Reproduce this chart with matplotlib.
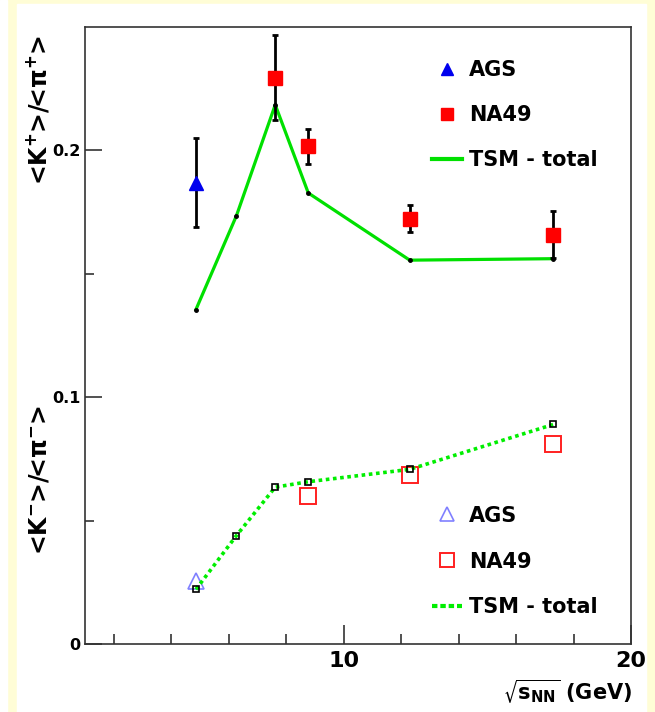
import numpy as np
import matplotlib.pyplot as plt
from matplotlib.lines import Line2D
from matplotlib.patches import Rectangle

plt.rcParams['font.family'] = 'DejaVu Sans'
plt.rcParams['font.weight'] = 'bold'
plt.rcParams['mathtext.default'] = 'bf'

# sqrt(s_NN) in GeV
energy = [4.86, 6.27, 7.62, 8.77, 12.3, 17.3]
ags_energy = [4.86]
na49_kp_energy = [7.62, 8.77, 12.3, 17.3]
na49_km_energy = [8.77, 12.3, 17.3]

# <K+>/<pi+>
tsm_kp = [0.1354, 0.1734, 0.2183, 0.1826, 0.1554, 0.1560]
ags_kp = [0.1868]
ags_kp_err = [0.018]
na49_kp = [0.2292, 0.2015, 0.1722, 0.1657]
na49_kp_err = [0.0172, 0.0070, 0.0055, 0.0095]

# <K->/<pi->
tsm_km = [0.0221, 0.0439, 0.0635, 0.0657, 0.0707, 0.0889]
ags_km = [0.0254]
na49_km = [0.0598, 0.0684, 0.0808]

green = '#00e000'
fig = plt.figure(figsize=(6.55, 7.12), dpi=100, facecolor='#fffdd6')
fig.patches.append(Rectangle((17 / 655, 0), 629 / 655, 1 - 4 / 712,
                             transform=fig.transFigure, color='white', zorder=-10))
fig.patches.append(Rectangle((0, 0), 7 / 655, 1, transform=fig.transFigure,
                             color='white', zorder=-10))

ax = fig.add_axes([85 / 655, (712 - 644) / 712, 546 / 655, 617.5 / 712])

# K+ / pi+
ax.plot(energy, tsm_kp, color=green, lw=2.3, marker='o', ms=2.5,
        mfc='k', mec='k', zorder=2)
ax.errorbar(ags_energy, ags_kp, yerr=ags_kp_err, fmt='^', color='#0000ee',
            ms=10, ecolor='k', elinewidth=2, capsize=2.5, capthick=2, zorder=3)
ax.errorbar(na49_kp_energy, na49_kp, yerr=na49_kp_err, fmt='s', color='#ff0000',
            ms=10, ecolor='k', elinewidth=2, capsize=2.5, capthick=2, zorder=3)

# K- / pi-
ax.plot(energy, tsm_km, color='#00ee00', lw=2.6, ls=(0, (1, 1)),
        marker='s', ms=4.5, mfc='none', mec='k', mew=1.2, zorder=3)
ax.plot(ags_energy, ags_km, ls='none', marker='^', ms=11, mfc='none',
        mec='#8080ff', mew=1.2, zorder=2)
ax.plot(na49_km_energy, na49_km, ls='none', marker='s', ms=11, mfc='none',
        mec='#ff2020', mew=1.4, zorder=2)

ax.set_xlim(1, 20)
ax.set_ylim(0, 0.25)
ax.set_xticks([10, 20])
ax.set_xticklabels(['10', '20'])
ax.set_xticks([2, 4, 6, 8, 12, 14, 16, 18], minor=True)
ax.set_yticks([0, 0.1, 0.2])
ax.set_yticklabels(['0', '0.1', '0.2'])
ax.set_yticks([0.05, 0.15], minor=True)
ax.tick_params(axis='both', which='both', direction='in', color='#333333',
               width=1.2, top=False, right=False)
ax.tick_params(axis='x', which='major', length=13.5, labelsize=16, pad=5)
ax.tick_params(axis='x', which='minor', length=7)
ax.tick_params(axis='y', which='major', length=12, labelsize=11.5, pad=3)
ax.tick_params(axis='y', which='minor', length=6.5)
for s in ax.spines.values():
    s.set_linewidth(1.2)
    s.set_color('#333333')

h_ags = Line2D([], [], ls='none', marker='^', ms=9, color='#0000ee')
h_na = Line2D([], [], ls='none', marker='s', ms=9, color='#ff0000')
h_tsm = Line2D([], [], color=green, lw=3)
leg1 = ax.legend([h_ags, h_na, h_tsm], ['AGS', 'NA49', 'TSM - total'],
                 loc='upper left', bbox_to_anchor=(0.6355, 0.945), frameon=False,
                 fontsize=15, handlelength=1.43, handletextpad=0.33,
                 labelspacing=1.19, borderpad=0, borderaxespad=0)
ax.add_artist(leg1)

h_ags2 = Line2D([], [], ls='none', marker='^', ms=10, mfc='none', mec='#8080ff', mew=1.2)
h_na2 = Line2D([], [], ls='none', marker='s', ms=10, mfc='none', mec='#ff2020', mew=1.4)
h_tsm2 = Line2D([], [], color='#00ee00', lw=3, ls=(0, (1.3, 0.7)))
ax.legend([h_ags2, h_na2, h_tsm2], ['AGS', 'NA49', 'TSM - total'],
          loc='upper left', bbox_to_anchor=(0.6355, 0.224), frameon=False,
          fontsize=15, handlelength=1.43, handletextpad=0.33,
          labelspacing=1.24, borderpad=0, borderaxespad=0)

fig.text(38.5 / 655, 1 - 110 / 712, r'<K$^{+}$>/<$\mathrm{\pi}^{+}$>', rotation=90,
         ha='center', va='center', fontsize=17)
fig.text(40 / 655, 1 - 480 / 712, r'<K$^{-}$>/<$\mathrm{\pi}^{-}$>', rotation=90,
         ha='center', va='center', fontsize=17)
fig.text(632 / 655, 1 - 692 / 712, r'$\sqrt{s_{NN}}$ (GeV)', ha='right',
         va='center', fontsize=15)

fig.savefig('out.png', dpi=100, facecolor=fig.get_facecolor())
